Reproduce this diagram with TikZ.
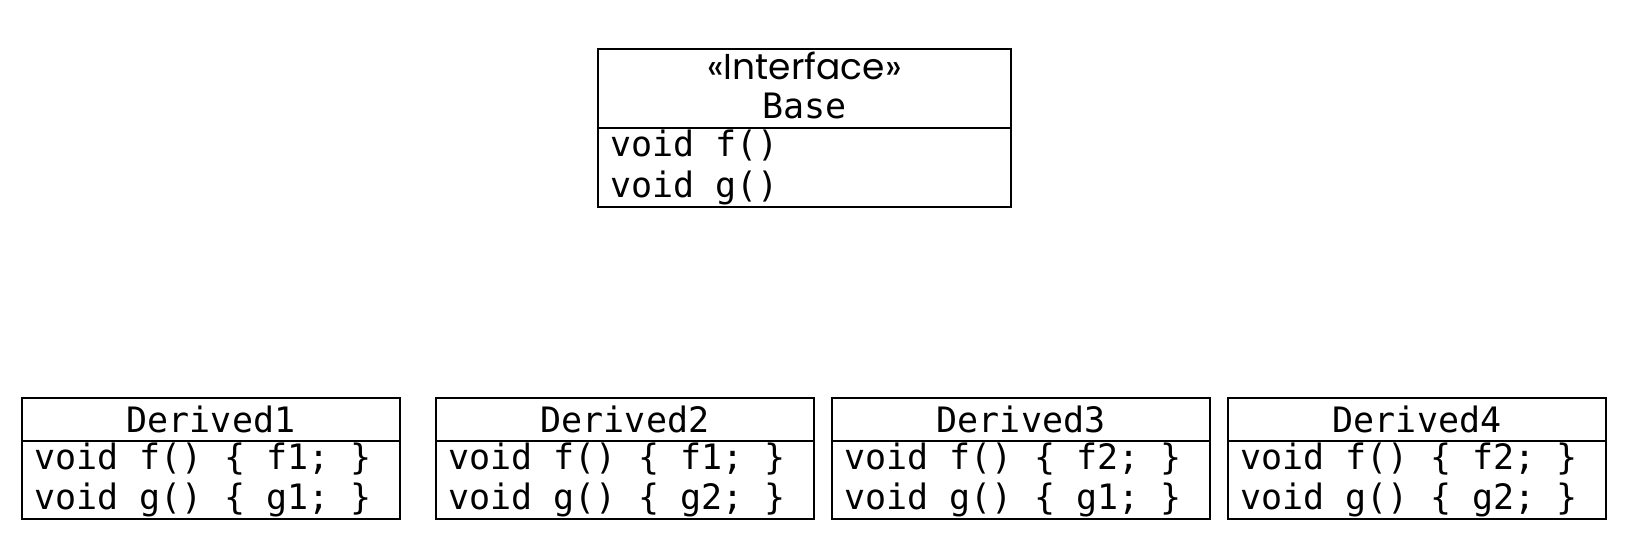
\documentclass[tikz,border=0pt]{standalone}
\usepackage{fontspec}
\setmonofont{DejaVu Sans Mono}
\newfontfamily\stereofont{Poppins}
\usetikzlibrary{positioning}

\tikzset{
    classbox/.style={draw, line width=0.7pt, inner sep=0pt, outer sep=0pt},
    code/.style={font=\ttfamily\fontsize{17.5}{20.25}\selectfont, inner sep=0pt, align=left},
    stereo/.style={font=\stereofont\fontsize{18}{20}\selectfont, inner sep=0pt}
}

\begin{document}
\begin{tikzpicture}[x=0.5pt, y=-0.5pt]
    \useasboundingbox (0,0) rectangle (1628,536);

    % the interface
    \node[classbox, minimum width=206.5pt, minimum height=39.5pt, anchor=north west]
        (base) at (598,49) {};
    \node[classbox, minimum width=206.5pt, minimum height=39.5pt, anchor=north]
        (basebody) at (base.south) {};
    \node[stereo] (basestereo) at (804.5,66) {«Interface»};
    \node[code] (basename) at (804.5,106) {Base};
    \node[code, anchor=west] (baseops) at ([xshift=6pt]basebody.west)
        {void f()\\void g()};

    % the four implementations
    \foreach \i/\x/\f/\g in {1/22/f1/g1, 2/436/f1/g2, 3/832/f2/g1, 4/1228/f2/g2} {
        \node[classbox, minimum width=189pt, minimum height=21.5pt, anchor=north west]
            (derived\i) at (\x,398) {};
        \node[classbox, minimum width=189pt, minimum height=39pt, anchor=north]
            (derived\i body) at (derived\i.south) {};
        \node[code] (derived\i name) at (derived\i.center) {Derived\i};
        \node[code, anchor=west] (derived\i ops) at ([xshift=6pt]derived\i body.west)
            {void f() \{ \f; \}\\void g() \{ \g; \}};
    }
\end{tikzpicture}
\end{document}
